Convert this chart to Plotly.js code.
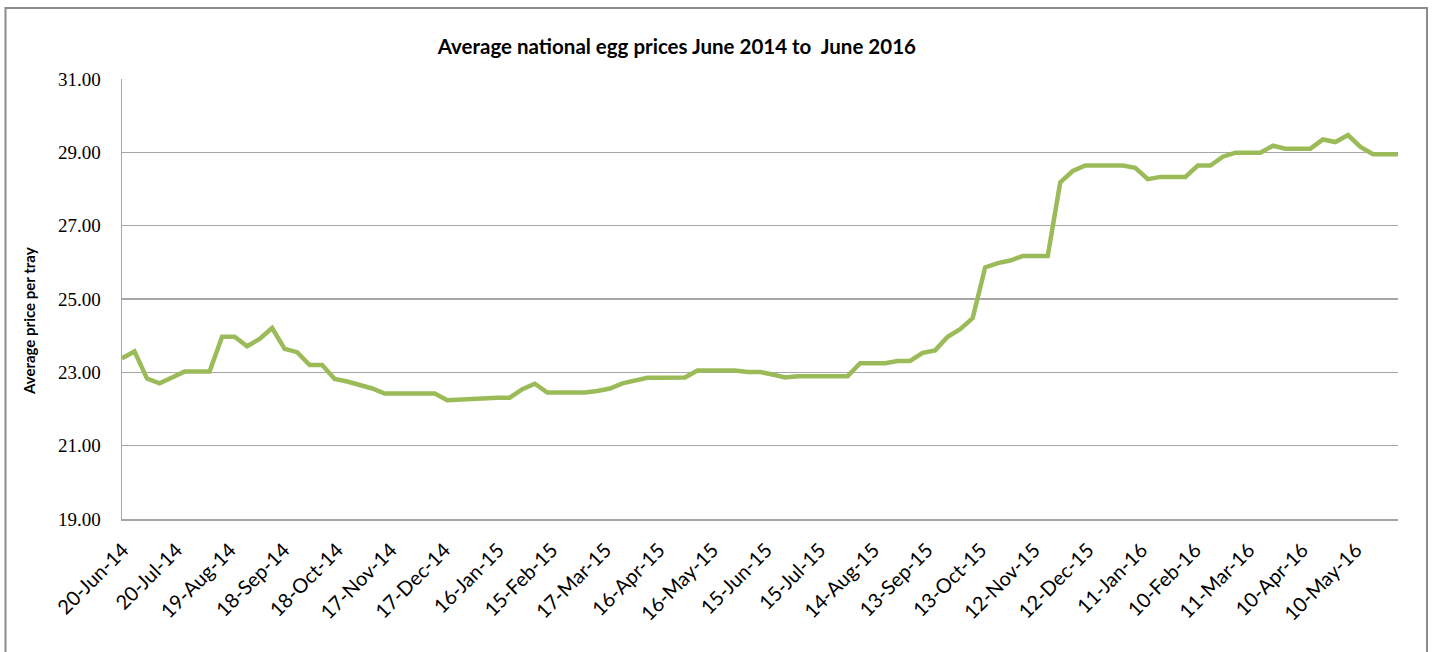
<!DOCTYPE html>
<html>
<head>
<meta charset="utf-8">
<script src="https://cdn.plot.ly/plotly-3.0.1.min.js"></script>
<style>
  body { margin: 0; background: #fff; }
  #eggChart { width: 1437px; height: 652px; }
</style>
</head>
<body>
<div id="eggChart"></div>
<script>
// weekly survey dates (Fridays)
const weeks = [
  '2014-06-20', '2014-06-27', '2014-07-04', '2014-07-11', '2014-07-18', '2014-07-25',
  '2014-08-01', '2014-08-08', '2014-08-15', '2014-08-22', '2014-08-29',
  '2014-09-05', '2014-09-12', '2014-09-19', '2014-09-26',
  '2014-10-03', '2014-10-10', '2014-10-17', '2014-10-24', '2014-10-31',
  '2014-11-07', '2014-11-14', '2014-11-21', '2014-11-28',
  '2014-12-05', '2014-12-12', '2014-12-19', '2014-12-26',
  '2015-01-02', '2015-01-09', '2015-01-16', '2015-01-23', '2015-01-30',
  '2015-02-06', '2015-02-13', '2015-02-20', '2015-02-27',
  '2015-03-06', '2015-03-13', '2015-03-20', '2015-03-27',
  '2015-04-03', '2015-04-10', '2015-04-17', '2015-04-24',
  '2015-05-01', '2015-05-08', '2015-05-15', '2015-05-22', '2015-05-29',
  '2015-06-05', '2015-06-12', '2015-06-19', '2015-06-26',
  '2015-07-03', '2015-07-10', '2015-07-17', '2015-07-24', '2015-07-31',
  '2015-08-07', '2015-08-14', '2015-08-21', '2015-08-28',
  '2015-09-04', '2015-09-11', '2015-09-18', '2015-09-25',
  '2015-10-02', '2015-10-09', '2015-10-16', '2015-10-23', '2015-10-30',
  '2015-11-06', '2015-11-13', '2015-11-20', '2015-11-27',
  '2015-12-04', '2015-12-11', '2015-12-18', '2015-12-25',
  '2016-01-01', '2016-01-08', '2016-01-15', '2016-01-22', '2016-01-29',
  '2016-02-05', '2016-02-12', '2016-02-19', '2016-02-26',
  '2016-03-04', '2016-03-11', '2016-03-18', '2016-03-25',
  '2016-04-01', '2016-04-08', '2016-04-15', '2016-04-22', '2016-04-29',
  '2016-05-06', '2016-05-13', '2016-05-20', '2016-05-27',
  '2016-06-03'
];

// average price per tray
const prices = [
  23.38, 23.57, 22.83, 22.70, 22.86, 23.02, 23.02, 23.02, 23.97, 23.97,
  23.71, 23.91, 24.21, 23.64, 23.55, 23.20, 23.20, 22.82, 22.75, 22.67,
  22.56, 22.42, 22.42, 22.42, 22.42, 22.42, 22.24, 22.26, 22.29, 22.31,
  22.31, 22.31, 22.54, 22.69, 22.45, 22.45, 22.45, 22.45, 22.49, 22.56,
  22.70, 22.78, 22.85, 22.85, 22.85, 22.86, 23.05, 23.05, 23.05, 23.05,
  23.01, 23.01, 22.94, 22.86, 22.89, 22.89, 22.89, 22.89, 22.89, 23.25,
  23.25, 23.25, 23.31, 23.31, 23.53, 23.60, 23.97, 24.18, 24.48, 25.86,
  25.98, 26.05, 26.17, 26.17, 26.17, 28.18, 28.49, 28.64, 28.64, 28.64,
  28.64, 28.58, 28.27, 28.33, 28.33, 28.33, 28.64, 28.64, 28.88, 28.99,
  28.99, 28.99, 29.18, 29.10, 29.10, 29.10, 29.35, 29.28, 29.47, 29.15,
  28.95, 28.95, 28.95
];

// category axis labels every 30 days
const tickDates = [
  '2014-06-20', '2014-07-20', '2014-08-19', '2014-09-18', '2014-10-18', '2014-11-17',
  '2014-12-17', '2015-01-16', '2015-02-15', '2015-03-17', '2015-04-16', '2015-05-16',
  '2015-06-15', '2015-07-15', '2015-08-14', '2015-09-13', '2015-10-13', '2015-11-12',
  '2015-12-12', '2016-01-11', '2016-02-10', '2016-03-11', '2016-04-10', '2016-05-10'
];
const tickLabels = [
  '20-Jun-14', '20-Jul-14', '19-Aug-14', '18-Sep-14', '18-Oct-14', '17-Nov-14',
  '17-Dec-14', '16-Jan-15', '15-Feb-15', '17-Mar-15', '16-Apr-15', '16-May-15',
  '15-Jun-15', '15-Jul-15', '14-Aug-15', '13-Sep-15', '13-Oct-15', '12-Nov-15',
  '12-Dec-15', '11-Jan-16', '10-Feb-16', '11-Mar-16', '10-Apr-16', '10-May-16'
];

const gridGrey = '#a6a6a6';

const data = [{
  x: weeks,
  y: prices,
  type: 'scatter',
  mode: 'lines',
  line: { color: '#9bbb59', width: 4.5 },
  hoverinfo: 'x+y'
}];

const layout = {
  width: 1437,
  height: 652,
  margin: { l: 122, r: 39, t: 79, b: 133 },
  paper_bgcolor: '#ffffff',
  plot_bgcolor: '#ffffff',
  showlegend: false,
  title: {
    text: '<b>Average national egg prices June 2014 to  June 2016</b>',
    font: { family: 'Lato', size: 20.5, color: '#000' },
    xref: 'container',
    x: 0.471,
    xanchor: 'center',
    yref: 'container',
    y: 0.928,
    yanchor: 'middle'
  },
  xaxis: {
    type: 'date',
    range: [weeks[0], weeks[weeks.length - 1]],
    tickmode: 'array',
    tickvals: tickDates,
    ticktext: tickLabels,
    tickangle: -45,
    tickfont: { family: 'Lato', size: 20, color: '#000' },
    ticklabelstandoff: 10,
    ticklabelshift: 1,
    showgrid: false,
    zeroline: false,
    showline: true,
    linecolor: gridGrey,
    linewidth: 1.5,
    ticks: ''
  },
  yaxis: {
    range: [19, 31],
    dtick: 2,
    tick0: 19,
    tickformat: '.2f',
    tickfont: { family: 'Liberation Serif', size: 19, color: '#000' },
    ticklabelstandoff: 16,
    showgrid: true,
    gridcolor: gridGrey,
    gridwidth: 1.5,
    zeroline: false,
    showline: true,
    linecolor: gridGrey,
    linewidth: 1.5,
    ticks: ''
  },
  annotations: [{
    text: '<b>Average price per tray</b>',
    textangle: -90,
    xref: 'paper',
    yref: 'paper',
    x: (29 - 122) / 1276,
    y: (519 - 321) / 440,
    xanchor: 'center',
    yanchor: 'middle',
    showarrow: false,
    font: { family: 'Lato', size: 15, color: '#000' }
  }],
  shapes: [{
    // chart area border
    type: 'rect',
    xref: 'paper',
    yref: 'paper',
    x0: (5.5 - 122) / 1276,
    x1: (1427 - 122) / 1276,
    y0: (519 - 670) / 440,
    y1: (519 - 8) / 440,
    line: { color: '#8c8c8c', width: 2 },
    fillcolor: 'rgba(0,0,0,0)'
  }]
};

Plotly.newPlot('eggChart', data, layout, { displayModeBar: false, staticPlot: true });
</script>
</body>
</html>
